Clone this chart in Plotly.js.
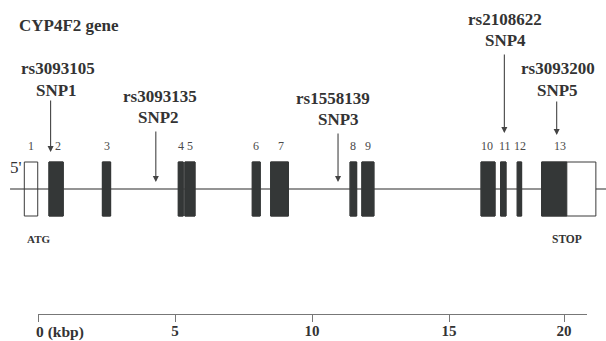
<!DOCTYPE html>
<html><head><meta charset="utf-8">
<script src="https://cdn.plot.ly/plotly-3.0.1.min.js"></script>
<style>html,body{margin:0;padding:0;background:#fff}#chart{width:606px;height:341px}</style>
</head><body><div id="chart"></div>
<script>
// ---- Data (positions in kbp) ----
const exonNumbers = ['1','2','3','4','5','6','7','8','9','10','11','12','13'];
const exonStart   = [-0.50, 0.40, 2.35, 5.12, 5.36, 7.82, 8.49, 11.39, 11.82, 16.17, 16.88, 17.49, 18.38];
const exonEnd     = [-0.01, 0.92, 2.65, 5.30, 5.73, 8.11, 9.14, 11.63, 12.26, 16.68, 17.08, 17.65, 20.36];
const codingStart = [null, 0.40, 2.35, 5.12, 5.36, 7.82, 8.49, 11.39, 11.82, 16.17, 16.88, 17.49, 18.38];
const codingEnd   = [null, 0.92, 2.65, 5.30, 5.73, 8.11, 9.14, 11.63, 12.26, 16.68, 17.08, 17.65, 19.30];
const snpIds   = ['rs3093105','rs3093135','rs1558139','rs2108622','rs3093200'];
const snpNames = ['SNP1','SNP2','SNP3','SNP4','SNP5'];
const snpPos   = [0.46, 4.30, 10.95, 17.02, 18.93];
const geneSpan = [-1.02, 20.9];
const atgPos = 0;
const scaleTickVals = [0, 5, 10, 15, 19.2];
const scaleTickText = ['', '5', '10', '15', '20'];

// ---- Layout / style (pixel-like vertical units, y grows downward) ----
const PX_PER_KBP = 27.4, ORIGIN_PX = 38, W = 606, H = 341;
const geneY = 189, exonTop = 162, exonBottom = 216, exonLabelY = 146;
const snpArrowTop = [99, 130, 132, 53, 100];
const snpArrowTip = [152, 182, 182, 133, 135];
const snpIdY   = [68.5, 96, 98, 19, 68];
const snpNameY = [90, 117, 119, 40.5, 90.5];
const snpIdShift   = [7, 4, -5, 1, 1];
const snpNameShift = [6, 3, 0, 1, 1];
const exonLabelShift = [0, 2, 0, 0, 0, 0, 1, 0, 0, -1, 2, 1, -9];
const serif = 'Liberation Serif, Times New Roman, serif';
const textCol = '#333333', exonCol = '#343737';

const shapes = [];
exonNumbers.forEach((n,i)=>{
  if (codingStart[i] !== null) {
    shapes.push({type:'rect', xref:'x', yref:'y', x0:exonStart[i], x1:exonEnd[i], y0:exonTop, y1:exonBottom,
      fillcolor:'#ffffff', line:{color:'#3a3a3a', width:1}, layer:'above'});
  }
});
shapes.push({type:'line', xref:'x', yref:'y', x0:geneSpan[0], x1:geneSpan[1], y0:geneY, y1:geneY,
  line:{color:'#707070', width:1.3}, layer:'below'});
exonNumbers.forEach((n,i)=>{
  if (codingStart[i] === null) {
    shapes.push({type:'rect', xref:'x', yref:'y', x0:exonStart[i], x1:exonEnd[i], y0:exonTop, y1:exonBottom,
      fillcolor:'rgba(255,255,255,0)', line:{color:'#3a3a3a', width:1}, layer:'above'});
  } else {
    shapes.push({type:'rect', xref:'x', yref:'y', x0:codingStart[i], x1:codingEnd[i], y0:exonTop, y1:exonBottom,
      fillcolor:exonCol, line:{color:exonCol, width:1}, layer:'above'});
  }
});

const ann = [];
ann.push({text:'<b>CYP4F2 gene</b>', xref:'paper', yref:'y', x:17/W, y:25.5, xanchor:'left', yanchor:'middle',
  showarrow:false, font:{family:serif, size:17, color:textCol}});
exonNumbers.forEach((n,i)=>{
  ann.push({text:n, xref:'x', yref:'y', x:(exonStart[i]+exonEnd[i])/2, y:exonLabelY, xshift:exonLabelShift[i],
    showarrow:false, font:{family:serif, size:12, color:'#4a4a4a'}});
});
snpIds.forEach((id,i)=>{
  ann.push({text:'', xref:'x', yref:'y', axref:'x', ayref:'y', x:snpPos[i], y:snpArrowTip[i], ax:snpPos[i], ay:snpArrowTop[i],
    showarrow:true, arrowhead:2, arrowsize:1.1, arrowwidth:1.1, arrowcolor:'#444'});
  ann.push({text:'<b>'+id+'</b>', xref:'x', yref:'y', x:snpPos[i], y:snpIdY[i], xshift:snpIdShift[i],
    showarrow:false, font:{family:serif, size:17, color:textCol}});
  ann.push({text:'<b>'+snpNames[i]+'</b>', xref:'x', yref:'y', x:snpPos[i], y:snpNameY[i], xshift:snpNameShift[i],
    showarrow:false, font:{family:serif, size:17, color:textCol}});
});
ann.push({text:"5'", xref:'paper', yref:'y', x:8/W, y:167, xanchor:'left', showarrow:false,
  font:{family:serif, size:17, color:textCol}});
ann.push({text:'<b>ATG</b>', xref:'x', yref:'y', x:atgPos, y:239, showarrow:false,
  font:{family:serif, size:11, color:textCol}});
ann.push({text:'<b>STOP</b>', xref:'x', yref:'y', x:codingEnd[12], y:239, showarrow:false,
  font:{family:serif, size:11.5, color:textCol}});
ann.push({text:'<b>0 (kbp)</b>', xref:'x2', yref:'y', x:0, y:332, xanchor:'left', xshift:-4, showarrow:false,
  font:{family:serif, size:15.5, color:textCol}});

const scaleLen = (587 - ORIGIN_PX) / PX_PER_KBP;
const layout = {
  width:W, height:H, margin:{l:0,r:0,t:0,b:0}, paper_bgcolor:'#fff', plot_bgcolor:'rgba(0,0,0,0)', showlegend:false,
  xaxis:{range:[-ORIGIN_PX/PX_PER_KBP, (W-ORIGIN_PX)/PX_PER_KBP], visible:false, fixedrange:true},
  yaxis:{range:[H, 0], visible:false, fixedrange:true},
  xaxis2:{domain:[ORIGIN_PX/W, 587/W], range:[0, scaleLen], anchor:'free', position:(H-314)/H,
    showline:true, linecolor:'#777', linewidth:1.3, showgrid:false, zeroline:false,
    ticks:'outside', ticklen:7, tickwidth:1, tickcolor:'#777', ticklabelstandoff:-4,
    tickvals:scaleTickVals, ticktext:scaleTickText.map(t=>t?'<b>'+t+'</b>':''),
    tickfont:{family:serif, size:15, color:textCol}},
  shapes:shapes, annotations:ann
};
const traces = [
  {x:[0], y:[0], xaxis:'x', yaxis:'y', mode:'markers', marker:{opacity:0}, hoverinfo:'skip'},
  {x:[0], y:[0], xaxis:'x2', yaxis:'y', mode:'markers', marker:{opacity:0}, hoverinfo:'skip'}
];
Plotly.newPlot('chart', traces, layout, {displayModeBar:false, staticPlot:true});
</script></body></html>
